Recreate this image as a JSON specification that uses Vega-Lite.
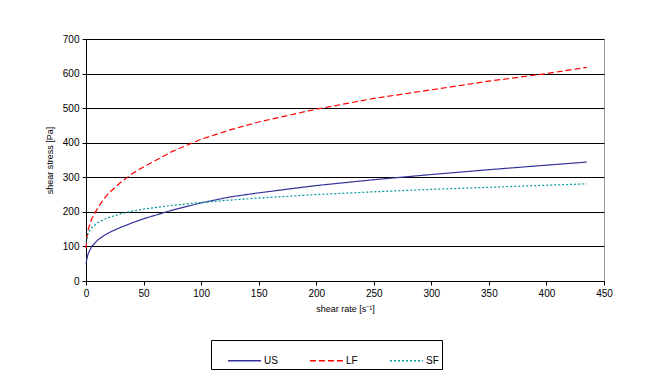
{
  "$schema": "https://vega.github.io/schema/vega-lite/v6.json",
  "width": 518,
  "height": 242,
  "autosize": {"type": "none"},
  "padding": {"left": 86, "top": 39, "right": 46, "bottom": 110},
  "background": "white",
  "config": {
    "font": "Liberation Sans",
    "view": {"stroke": "#999999", "strokeWidth": 1},
    "axis": {"labelFont": "Liberation Sans", "titleFont": "Liberation Sans", "labelFontSize": 10, "titleFontSize": 9, "titleFontWeight": "normal", "labelColor": "black", "titleColor": "black", "domainColor": "black", "tickColor": "black"}
  },
  "data": {"values": [
    {"series": "US", "x": 0, "y": 50},
    {"series": "US", "x": 1, "y": 68},
    {"series": "US", "x": 2, "y": 80},
    {"series": "US", "x": 5, "y": 100},
    {"series": "US", "x": 10, "y": 118},
    {"series": "US", "x": 15, "y": 130},
    {"series": "US", "x": 20, "y": 140},
    {"series": "US", "x": 30, "y": 155},
    {"series": "US", "x": 40, "y": 168},
    {"series": "US", "x": 50, "y": 180},
    {"series": "US", "x": 75, "y": 205},
    {"series": "US", "x": 100, "y": 226},
    {"series": "US", "x": 125, "y": 243},
    {"series": "US", "x": 150, "y": 255},
    {"series": "US", "x": 200, "y": 276},
    {"series": "US", "x": 250, "y": 293},
    {"series": "US", "x": 300, "y": 308},
    {"series": "US", "x": 350, "y": 322},
    {"series": "US", "x": 400, "y": 335},
    {"series": "US", "x": 435, "y": 344},
    {"series": "LF", "x": 0, "y": 95},
    {"series": "LF", "x": 1, "y": 130},
    {"series": "LF", "x": 2, "y": 150},
    {"series": "LF", "x": 5, "y": 180},
    {"series": "LF", "x": 10, "y": 210},
    {"series": "LF", "x": 15, "y": 235},
    {"series": "LF", "x": 20, "y": 255},
    {"series": "LF", "x": 30, "y": 285},
    {"series": "LF", "x": 40, "y": 310},
    {"series": "LF", "x": 50, "y": 330},
    {"series": "LF", "x": 75, "y": 375},
    {"series": "LF", "x": 100, "y": 410},
    {"series": "LF", "x": 125, "y": 437},
    {"series": "LF", "x": 150, "y": 460},
    {"series": "LF", "x": 200, "y": 497},
    {"series": "LF", "x": 250, "y": 528},
    {"series": "LF", "x": 300, "y": 553},
    {"series": "LF", "x": 350, "y": 578},
    {"series": "LF", "x": 400, "y": 600},
    {"series": "LF", "x": 435, "y": 618},
    {"series": "SF", "x": 0, "y": 110},
    {"series": "SF", "x": 1, "y": 128},
    {"series": "SF", "x": 2, "y": 140},
    {"series": "SF", "x": 5, "y": 155},
    {"series": "SF", "x": 10, "y": 168},
    {"series": "SF", "x": 15, "y": 177},
    {"series": "SF", "x": 20, "y": 184},
    {"series": "SF", "x": 30, "y": 194},
    {"series": "SF", "x": 40, "y": 202},
    {"series": "SF", "x": 50, "y": 208},
    {"series": "SF", "x": 75, "y": 219},
    {"series": "SF", "x": 100, "y": 227},
    {"series": "SF", "x": 125, "y": 234},
    {"series": "SF", "x": 150, "y": 240},
    {"series": "SF", "x": 200, "y": 250},
    {"series": "SF", "x": 250, "y": 258},
    {"series": "SF", "x": 300, "y": 265},
    {"series": "SF", "x": 350, "y": 271},
    {"series": "SF", "x": 400, "y": 277},
    {"series": "SF", "x": 435, "y": 281}
  ]},
  "mark": {"type": "line", "strokeWidth": 1.2},
  "encoding": {
    "x": {"field": "x", "type": "quantitative", "scale": {"domain": [0, 450], "nice": false},
      "axis": {"title": "shear rate [s⁻¹]", "values": [0,50,100,150,200,250,300,350,400,450], "grid": false, "tickSize": 4, "labelPadding": 3, "titlePadding": 6, "labelFlush": false, "labelOverlap": false}},
    "y": {"field": "y", "type": "quantitative", "scale": {"domain": [0, 700], "nice": false},
      "axis": {"title": "shear stress [Pa]", "values": [0,100,200,300,400,500,600,700], "grid": true, "gridColor": "black", "gridOpacity": 1, "gridWidth": 1, "tickSize": 4, "labelPadding": 3, "titlePadding": 8, "labelFlush": false}},
    "color": {"field": "series", "type": "nominal",
      "scale": {"domain": ["US", "LF", "SF"], "range": ["#333399", "#ff0000", "#009999"]},
      "legend": {"title": null, "orient": "none", "legendX": 125, "legendY": 301, "direction": "horizontal", "columns": 3,
        "strokeColor": "black", "fillColor": "white", "padding": 3, "symbolType": "stroke", "symbolSize": 1100, "symbolStrokeWidth": 1.5, "symbolOffset": 13,
        "labelFontSize": 10, "labelFont": "Liberation Sans", "labelColor": "black", "columnPadding": 18, "labelOffset": 2, "labelLimit": 100}},
    "strokeDash": {"field": "series", "type": "nominal",
      "scale": {"domain": ["US", "LF", "SF"], "range": [[1, 0], [6, 3], [2, 2]]},
      "legend": null}
  }
}
